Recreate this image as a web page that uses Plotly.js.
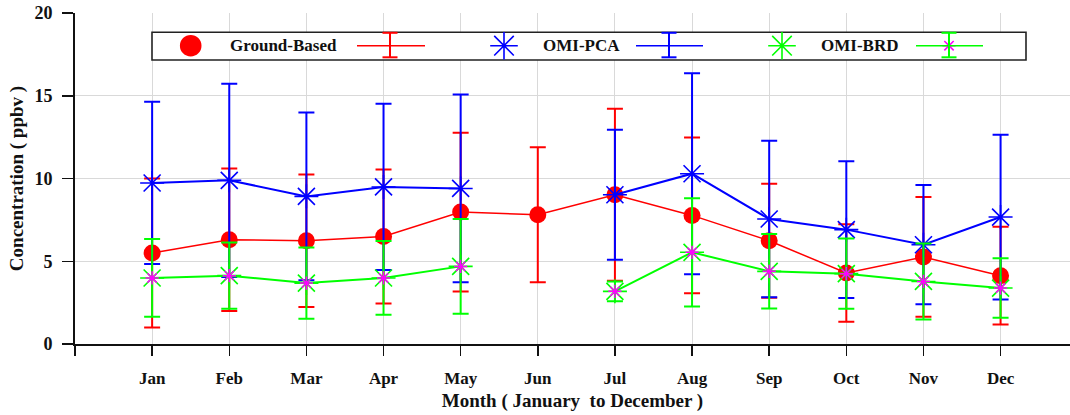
<!DOCTYPE html>
<html>
<head>
<meta charset="utf-8">
<script src="https://cdn.plot.ly/plotly-3.0.1.min.js"></script>
<style>
  html, body { margin: 0; padding: 0; background: #fff; }
  #chart { width: 1070px; height: 415px; }
</style>
</head>
<body>
<div id="chart"></div>
<script>
// Monthly mean concentrations (ppbv) with ± one standard deviation
const months = ['Jan', 'Feb', 'Mar', 'Apr', 'May', 'Jun', 'Jul', 'Aug', 'Sep', 'Oct', 'Nov', 'Dec'];
const monthIndex = [1, 2, 3, 4, 5, 6, 7, 8, 9, 10, 11, 12];

const groundBased    = [5.50, 6.30, 6.24, 6.50, 7.97, 7.81, 9.02, 7.77, 6.24, 4.29, 5.26, 4.13];
const groundBasedErr = [4.50, 4.30, 4.00, 4.05, 4.80, 4.08, 5.20, 4.70, 3.45, 2.95, 3.62, 2.95];

const omiPca    = [9.73, 9.89, 8.92, 9.49, 9.40, null, 9.02, 10.29, 7.55, 6.91, 6.00, 7.67];
const omiPcaErr = [4.90, 5.84, 5.07, 5.02, 5.67, null, 3.93, 6.07, 4.73, 4.13, 3.60, 4.98];

const omiBrd    = [3.99, 4.13, 3.68, 3.99, 4.69, null, 3.18, 5.54, 4.39, 4.25, 3.78, 3.38];
const omiBrdErr = [2.35, 2.00, 2.15, 2.23, 2.86, null, 0.60, 3.27, 2.25, 2.12, 2.30, 1.80];

const seriesNames = ['Ground-Based', 'OMI-PCA', 'OMI-BRD'];

const RED = '#ff0000', BLUE = '#0000ff', GREEN = '#00ff00', MAGENTA = '#ff00ff';
const FONT = 'Liberation Serif, Times New Roman, serif';

// axis ranges and the plot-area frame in pixels
const X_RANGE = [0, 12.9], Y_RANGE = [0, 20];
const PLOT = { left: 75, right: 1070, top: 13, bottom: 344 };
// key layout is specified in pixels; convert to main-axis units
const px2x = px => X_RANGE[0] + (px - PLOT.left) / (PLOT.right - PLOT.left) * (X_RANGE[1] - X_RANGE[0]);
const px2y = py => Y_RANGE[0] + (PLOT.bottom - py) / (PLOT.bottom - PLOT.top) * (Y_RANGE[1] - Y_RANGE[0]);

function errBar(arr, color) {
  return { type: 'data', array: arr, symmetric: true, visible: true,
           color: color, thickness: 2, width: 8 };
}

const traces = [
  {
    x: monthIndex, y: groundBased, name: seriesNames[0], type: 'scatter',
    mode: 'lines+markers', connectgaps: false,
    line: { color: RED, width: 1.5 },
    marker: { symbol: 'circle', size: 17, color: RED, opacity: 1 },
    error_y: errBar(groundBasedErr, RED)
  },
  {
    x: monthIndex, y: omiPca, name: seriesNames[1], type: 'scatter',
    mode: 'lines+markers', connectgaps: false,
    line: { color: BLUE, width: 2 },
    marker: { symbol: 'asterisk-open', size: 20, color: BLUE, opacity: 1, line: { color: BLUE, width: 1.6 } },
    error_y: errBar(omiPcaErr, BLUE)
  },
  {
    x: monthIndex, y: omiBrd, name: seriesNames[2], type: 'scatter',
    mode: 'lines+markers', connectgaps: false,
    line: { color: GREEN, width: 2 },
    marker: { symbol: 'asterisk-open', size: 20, color: GREEN, opacity: 1, line: { color: GREEN, width: 1.6 } },
    error_y: errBar(omiBrdErr, GREEN)
  },
  {
    // inner magenta star on the OMI-BRD points
    x: monthIndex, y: omiBrd, type: 'scatter', mode: 'markers', showlegend: false,
    hoverinfo: 'skip',
    marker: { symbol: 'asterisk-open', size: 11, color: MAGENTA, opacity: 1, line: { color: MAGENTA, width: 1.5 } }
  }
];

// Key box (pixel positions)
const keyY = 45.7;
const keySymbols = {
  x: [190.7, 504, 782, 949],
  symbol: ['circle', 'asterisk-open', 'asterisk-open', 'asterisk-open'],
  size: [20, 23, 23, 11],
  color: [RED, BLUE, GREEN, MAGENTA]
};
const keyText = [
  { label: seriesNames[0], x: 228 },
  { label: seriesNames[1], x: 541 },
  { label: seriesNames[2], x: 819 }
];
const keyBars = [
  { x0: 357, x1: 425, xc: 390, color: RED },
  { x0: 636, x1: 703, xc: 669, color: BLUE },
  { x0: 916, x1: 983, xc: 949, color: GREEN }
];

const shapes = [
  { type: 'rect', xref: 'x', yref: 'y', x0: px2x(152), x1: px2x(1026), y0: px2y(32.3), y1: px2y(60),
    line: { color: '#222', width: 1.6 }, fillcolor: '#ffffff', layer: 'between' }
];
keyBars.forEach(b => {
  shapes.push({ type: 'line', xref: 'x', yref: 'y', x0: px2x(b.x0), x1: px2x(b.x1), y0: px2y(keyY), y1: px2y(keyY),
                line: { color: b.color, width: 1.6 }, layer: 'above' });
  shapes.push({ type: 'line', xref: 'x', yref: 'y', x0: px2x(b.xc), x1: px2x(b.xc), y0: px2y(32.8), y1: px2y(57.3),
                line: { color: b.color, width: 2 }, layer: 'above' });
  [32.8, 57.3].forEach(yy => shapes.push({
    type: 'line', xref: 'x', yref: 'y', x0: px2x(b.xc - 7.5), x1: px2x(b.xc + 7.5), y0: px2y(yy), y1: px2y(yy),
    line: { color: b.color, width: 2 }, layer: 'above' }));
});

// key symbols drawn after the shapes on top of the white box
traces.push({
  x: keySymbols.x.map(px2x), y: keySymbols.x.map(() => px2y(keyY)),
  type: 'scatter', mode: 'markers', showlegend: false, hoverinfo: 'skip', cliponaxis: false,
  marker: { symbol: keySymbols.symbol, size: keySymbols.size, color: keySymbols.color, opacity: 1,
            line: { color: keySymbols.color, width: 1.6 } }
});

const annotations = keyText.map(t => ({
  xref: 'x', yref: 'y', x: px2x(t.x), y: px2y(keyY), xanchor: 'left', yanchor: 'middle',
  text: t.label, showarrow: false,
  font: { family: FONT, size: 17, color: '#111', weight: 'bold' }
}));

const layout = {
  width: 1070, height: 415,
  margin: { l: PLOT.left, r: 1070 - PLOT.right, t: PLOT.top, b: 415 - PLOT.bottom },
  paper_bgcolor: '#ffffff', plot_bgcolor: '#ffffff',
  showlegend: false,
  font: { family: FONT, color: '#111' },
  xaxis: {
    range: X_RANGE,
    tickvals: [0].concat(monthIndex),
    ticktext: [''].concat(months),
    ticks: 'outside', ticklen: 10, tickwidth: 1.5, tickcolor: '#111',
    ticklabelstandoff: 8,
    tickfont: { family: FONT, size: 17, color: '#111', weight: 'bold' },
    showgrid: true, gridcolor: '#d9d9d9', gridwidth: 1,
    showline: true, linecolor: '#111', linewidth: 2,
    zeroline: false,
    title: { text: 'Month ( January  to December )', standoff: 6,
             font: { family: FONT, size: 19, color: '#111', weight: 'bold' } }
  },
  yaxis: {
    range: Y_RANGE,
    tickvals: [0, 5, 10, 15, 20],
    ticks: 'outside', ticklen: 11, tickwidth: 1.5, tickcolor: '#111',
    ticklabelstandoff: 6,
    tickfont: { family: FONT, size: 18, color: '#111', weight: 'bold' },
    showgrid: true, gridcolor: '#d9d9d9', gridwidth: 1,
    showline: true, linecolor: '#111', linewidth: 2,
    zeroline: false,
    title: { text: 'Concentration ( ppbv )', standoff: 6,
             font: { family: FONT, size: 19, color: '#111', weight: 'bold' } }
  },
  shapes: shapes,
  annotations: annotations
};

Plotly.newPlot('chart', traces, layout, { displayModeBar: false, staticPlot: true });
</script>
</body>
</html>
